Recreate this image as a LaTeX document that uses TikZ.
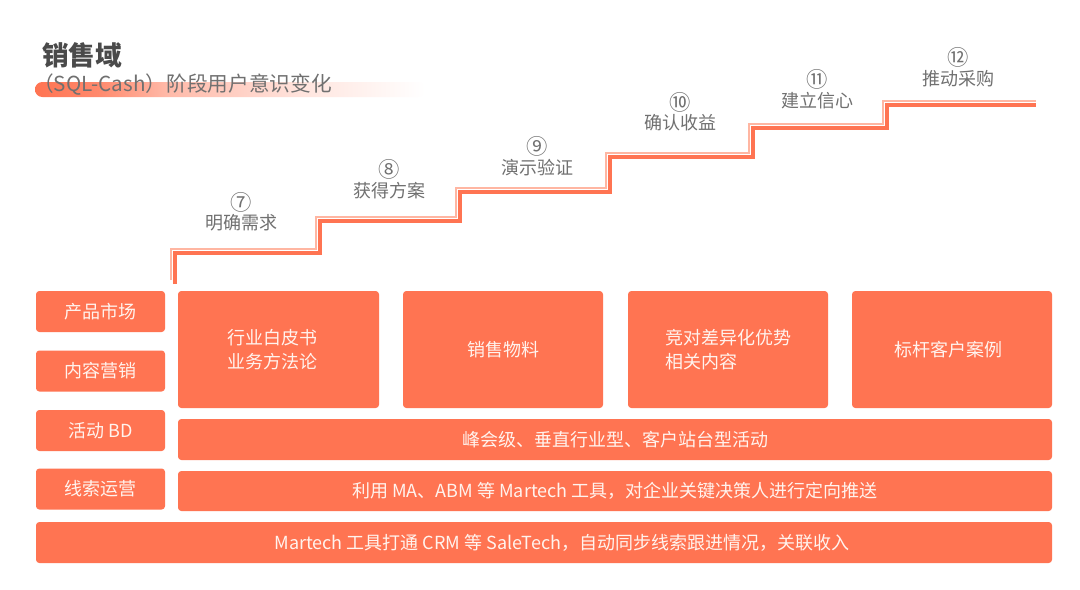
\documentclass[tikz,border=0pt]{standalone}
\usepackage{fontspec}
\setmainfont{Noto Sans CJK SC}
\newfontfamily\cjk{Noto Sans CJK SC}
\definecolor{org}{HTML}{FF7452}
\definecolor{orglight}{HTML}{FFB6A2}
\definecolor{txtgray}{HTML}{707070}
\definecolor{titlegray}{HTML}{4A4A4A}
\definecolor{boxtext}{HTML}{FFF3EE}
\pgfdeclarehorizontalshading{fadebar}{100bp}{color(0bp)=(org); color(25bp)=(org); color(33bp)=(org!85); color(42bp)=(org!50); color(60bp)=(org!18); color(75bp)=(white); color(100bp)=(white)}
\tikzset{
  box/.style={fill=org, rounded corners=2.5pt, inner sep=0pt, text=boxtext, font=\cjk\fontsize{13.5pt}{17.5pt}\selectfont, align=center},
  stagelabel/.style={text=txtgray, font=\cjk\fontsize{13.5pt}{16pt}\selectfont, inner sep=0pt},
  stagenum/.style={text=txtgray, font=\cjk\fontsize{16pt}{18pt}\selectfont, inner sep=0pt},
  stairthick/.style={draw=org, line width=2.4pt},
  stairthin/.style={draw=orglight, line width=1.2pt},
  sh/.style={shift={(-4,-4)}},
  shy/.style={shift={(0,-4)}}
}
\begin{document}
\begin{tikzpicture}[x=0.75pt,y=-0.75pt]
\useasboundingbox (0,0) rectangle (1080,589);
\fill[white] (0,0) rectangle (1080,589);
% title
\shade[shading=fadebar, rounded corners=5.5pt] (35,82) rectangle (425,97);
\node[anchor=west, inner sep=0pt, text=titlegray, font=\cjk\bfseries\fontsize{20pt}{22pt}\selectfont] (title) at (42,55) {销售域};
\node[anchor=west, inner sep=0pt, text=txtgray, font=\cjk\fontsize{15.5pt}{18pt}\selectfont] (subtitle) at (33,85) {（SQL-Cash）阶段用户意识变化};
% staircase
\coordinate (s0) at (175,284);
\coordinate (s1) at (175,253);
\coordinate (s2) at (320,253);
\coordinate (s3) at (320,221);
\coordinate (s4) at (460,221);
\coordinate (s5) at (460,192);
\coordinate (s6) at (610,192);
\coordinate (s7) at (610,157);
\coordinate (s8) at (753,157);
\coordinate (s9) at (753,128);
\coordinate (s10) at (887,128);
\coordinate (s11) at (887,105);
\coordinate (s12) at (1036,105);
\draw[stairthin] ([sh]s0) -- ([sh]s1) -- ([sh]s2) -- ([sh]s3) -- ([sh]s4) -- ([sh]s5) -- ([sh]s6) -- ([sh]s7) -- ([sh]s8) -- ([sh]s9) -- ([sh]s10) -- ([sh]s11) -- ([shy]s12);
\draw[stairthick] (s0) -- (s1) -- (s2) -- (s3) -- (s4) -- (s5) -- (s6) -- (s7) -- (s8) -- (s9) -- (s10) -- (s11) -- (s12);
% stage labels
\node[stagenum] (n7) at (241,202) {⑦};
\node[stagelabel] (l7) at (241,223) {明确需求};
\node[stagenum] (n8) at (389,169) {⑧};
\node[stagelabel] (l8) at (389,191) {获得方案};
\node[stagenum] (n9) at (537,146) {⑨};
\node[stagelabel] (l9) at (537,168) {演示验证};
\node[stagenum] (n10) at (680,102) {⑩};
\node[stagelabel] (l10) at (680,123) {确认收益};
\node[stagenum] (n11) at (817,79) {⑪};
\node[stagelabel] (l11) at (817,101) {建立信心};
\node[stagenum] (n12) at (958,57) {⑫};
\node[stagelabel] (l12) at (958,79) {推动采购};
% left column
\node[box, minimum width=96.75pt, minimum height=30.75pt] (pm) at (100.5,311.5) {产品市场};
\node[box, minimum width=96.75pt, minimum height=30.75pt] (cm) at (100.5,371) {内容营销};
\node[box, minimum width=96.75pt, minimum height=30.75pt] (bd) at (100.5,430.5) {活动 BD};
\node[box, minimum width=96.75pt, minimum height=30.75pt] (lo) at (100.5,489) {线索运营};
% big boxes
\node[box, minimum width=150.75pt, minimum height=87.75pt] (b1) at (278.5,349.5) {\hspace*{-9pt}行业白皮书\\\hspace*{-9pt}业务方法论};
\node[box, minimum width=150pt, minimum height=87.75pt] (b2) at (503,349.5) {销售物料};
\node[box, minimum width=150pt, minimum height=87.75pt, align=left] (b3) at (728,349.5) {竞对差异化优势\\相关内容};
\node[box, minimum width=150pt, minimum height=87.75pt] (b4) at (952,349.5) {\hspace*{-6pt}标杆客户案例};
% bars
\node[box, minimum width=655.5pt, minimum height=30.75pt] (bar1) at (615,439.5) {峰会级、垂直行业型、客户站台型活动};
\node[box, minimum width=655.5pt, minimum height=30pt] (bar2) at (615,491) {利用 MA、ABM 等 Martech 工具，对企业关键决策人进行定向推送};
\node[box, minimum width=762pt, minimum height=30.75pt] (bar3) at (544,542.5) {\hspace*{27pt}Martech 工具打通 CRM 等 SaleTech，自动同步线索跟进情况，关联收入};
\end{tikzpicture}
\end{document}
